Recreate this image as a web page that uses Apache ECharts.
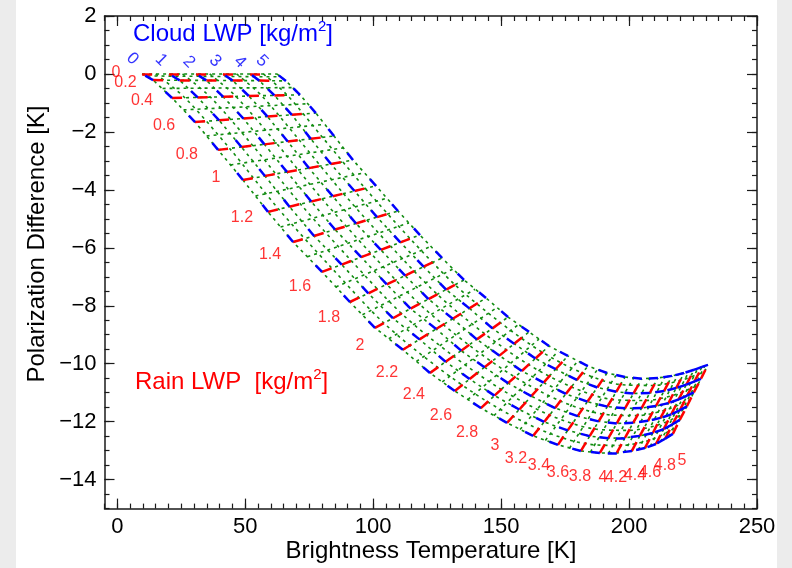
<!DOCTYPE html>
<html><head><meta charset="utf-8">
<script src="https://cdn.jsdelivr.net/npm/echarts@6.0.0/dist/echarts.min.js"></script>
<style>html,body{margin:0;padding:0;background:#ececec;}#chart{width:792px;height:568px;}</style>
</head><body><div id="chart"></div>
<script>
// ---- data ----
const rainLWP = [0,0.2,0.4,0.6,0.8,1,1.2,1.4,1.6,1.8,2,2.2,2.4,2.6,2.8,3,3.2,3.4,3.6,3.8,4,4.2,4.4,4.6,4.8,5];
const cloudLWP = [0,1,2,3,4,5];

const tbCloud0 = [9.7,14.0,21.4,30.4,39.4,49.1,58.9,68.7,80.0,90.9,100.7,111.6,122.2,131.9,142.1,152.3,162.5,172.2,181.2,188.6,195.2,201.1,206.2,210.5,214.1,217.1];
const pdCloud0 = [0,-0.21,-0.83,-1.66,-2.62,-3.66,-4.76,-5.80,-6.83,-7.87,-8.76,-9.52,-10.32,-10.94,-11.53,-12.04,-12.49,-12.80,-13.01,-13.08,-13.08,-13.01,-12.91,-12.77,-12.59,-12.42];
const tbCloud1 = [20.2,24.4,31.4,39.8,48.5,57.7,67.3,76.9,87.7,98.1,107.7,118.1,128.3,137.7,147.4,157.1,166.8,176.0,184.6,191.9,198.4,204.2,209.3,213.5,217.0,219.8];
const pdCloud1 = [0,-0.22,-0.81,-1.60,-2.52,-3.52,-4.58,-5.59,-6.58,-7.57,-8.43,-9.16,-9.93,-10.53,-11.10,-11.58,-12.01,-12.30,-12.50,-12.57,-12.56,-12.49,-12.39,-12.26,-12.09,-11.94];
const tbCloud2 = [30.8,34.8,41.4,49.3,57.5,66.3,75.8,85.1,95.3,105.3,114.6,124.6,134.4,143.5,152.7,161.8,171.1,179.9,188.1,195.2,201.6,207.4,212.3,216.5,219.9,222.6];
const pdCloud2 = [0,-0.22,-0.79,-1.54,-2.43,-3.38,-4.40,-5.37,-6.32,-7.26,-8.10,-8.80,-9.55,-10.12,-10.67,-11.12,-11.53,-11.81,-11.99,-12.06,-12.04,-11.97,-11.87,-11.75,-11.60,-11.47];
const tbCloud3 = [41.3,45.1,51.4,58.7,66.6,74.9,84.2,93.3,103.0,112.5,121.6,131.1,140.5,149.3,158.1,166.6,175.3,183.7,191.5,198.4,204.9,210.5,215.4,219.4,222.7,225.3];
const pdCloud3 = [0,-0.23,-0.76,-1.47,-2.33,-3.25,-4.22,-5.16,-6.07,-6.96,-7.77,-8.45,-9.16,-9.72,-10.25,-10.65,-11.04,-11.31,-11.48,-11.54,-11.53,-11.46,-11.36,-11.23,-11.10,-10.99];
const tbCloud4 = [51.9,55.5,61.4,68.2,75.6,83.5,92.7,101.5,110.6,119.7,128.5,137.6,146.6,155.1,163.4,171.3,179.6,187.6,195.0,201.7,208.1,213.7,218.4,222.4,225.6,228.1];
const pdCloud4 = [0,-0.23,-0.74,-1.41,-2.24,-3.11,-4.04,-4.94,-5.81,-6.65,-7.44,-8.09,-8.78,-9.31,-9.82,-10.19,-10.56,-10.82,-10.97,-11.03,-11.01,-10.94,-10.84,-10.72,-10.61,-10.52];
const tbCloud5 = [62.4,65.9,71.4,77.6,84.7,92.1,101.1,109.7,118.3,126.9,135.5,144.1,152.7,160.9,168.7,176.1,183.9,191.4,198.4,205.0,211.3,216.8,221.5,225.4,228.5,230.8];
const pdCloud5 = [0,-0.24,-0.72,-1.35,-2.14,-2.97,-3.86,-4.73,-5.56,-6.35,-7.11,-7.73,-8.39,-8.90,-9.39,-9.73,-10.08,-10.32,-10.46,-10.52,-10.49,-10.42,-10.32,-10.21,-10.11,-10.04];

// green dotted curves: half-step cloud LWP
const cloudHalf = [0.5,1.5,2.5,3.5,4.5];
const rainGreen = [0,0.4,0.8,1.2,1.6,2,2.4,2.8,3.2,3.6,4,4.4,4.8,5];
const tbHalf05 = [15.0,26.4,43.9,63.1,83.8,104.2,125.3,144.8,164.6,182.9,196.8,207.7,215.5,218.5];
const pdHalf05 = [0,-0.82,-2.57,-4.67,-6.70,-8.60,-10.13,-11.32,-12.25,-12.76,-12.82,-12.65,-12.34,-12.18];
const tbHalf15 = [25.5,36.4,53.0,71.6,91.5,111.1,131.4,150.1,168.9,186.4,200.0,210.8,218.4,221.2];
const pdHalf15 = [0,-0.80,-2.48,-4.49,-6.45,-8.27,-9.74,-10.89,-11.77,-12.25,-12.30,-12.13,-11.85,-11.71];
const tbHalf25 = [36.1,46.4,62.1,80.0,99.2,118.1,137.5,155.4,173.2,189.8,203.3,213.9,221.3,224.0];
const pdHalf25 = [0,-0.78,-2.38,-4.31,-6.20,-7.94,-9.36,-10.46,-11.29,-11.74,-11.79,-11.61,-11.35,-11.23];
const tbHalf35 = [46.6,56.4,71.1,88.4,106.8,125.1,143.6,160.7,177.5,193.2,206.5,216.9,224.2,226.7];
const pdHalf35 = [0,-0.75,-2.28,-4.13,-5.94,-7.61,-8.97,-10.03,-10.80,-11.23,-11.27,-11.10,-10.85,-10.76];
const tbHalf45 = [57.1,66.4,80.2,96.9,114.5,132.0,149.7,166.0,181.8,196.7,209.7,220.0,227.1,229.4];
const pdHalf45 = [0,-0.73,-2.19,-3.95,-5.69,-7.28,-8.58,-9.60,-10.32,-10.72,-10.75,-10.58,-10.36,-10.28];

// green dotted lines: odd-tenth rain LWP, from cloud 0 to cloud 5
const rainMid = [0.1,0.3,0.5,0.7,0.9,1.1,1.3,1.5,1.7,1.9,2.1,2.3,2.5,2.7,2.9,3.1,3.3,3.5,3.7,3.9,4.1,4.3,4.5,4.7,4.9];
const tbMidC0 = [11.8,17.7,25.9,34.9,44.2,54.0,63.8,74.3,85.4,95.8,106.1,116.9,127.0,137.0,147.2,157.4,167.3,176.7,184.9,191.9,198.1,203.6,208.3,212.3,215.6];
const pdMidC0 = [-0.07,-0.50,-1.24,-2.14,-3.14,-4.21,-5.28,-6.31,-7.35,-8.31,-9.14,-9.92,-10.63,-11.24,-11.79,-12.27,-12.65,-12.92,-13.05,-13.10,-13.06,-12.97,-12.85,-12.69,-12.51];
const tbMidC5 = [64.1,68.6,74.5,81.1,88.4,96.6,105.4,114.0,122.6,131.2,139.8,148.4,156.8,164.8,172.4,180.0,187.6,194.9,201.7,208.1,214.0,219.1,223.4,226.9,229.6];
const pdMidC5 = [-0.10,-0.47,-1.03,-1.74,-2.55,-3.41,-4.29,-5.14,-5.95,-6.73,-7.43,-8.06,-8.65,-9.15,-9.57,-9.91,-10.21,-10.40,-10.50,-10.51,-10.46,-10.38,-10.27,-10.16,-10.08];

// label anchor points (data coordinates)
const rainLabelT = [-0.5,3.2,9.7,18.3,27.2,38.6,48.7,59.7,71.4,82.7,94.8,105.4,115.9,126.5,136.7,147.6,155.8,164.8,172.2,180.8,189.8,194.9,202.3,208.2,214.0,220.7];
const rainLabelP = [0.03,-0.29,-0.93,-1.79,-2.80,-3.59,-4.97,-6.25,-7.35,-8.42,-9.39,-10.32,-11.08,-11.80,-12.39,-12.84,-13.28,-13.53,-13.77,-13.91,-13.94,-13.94,-13.87,-13.77,-13.53,-13.35];
const cloudLabelT = [5.9,17.1,28.0,38.2,47.9,56.5];
const cloudLabelP = [0.52,0.48,0.41,0.45,0.41,0.45];

// axis ticks
const xTickValues = [0,50,100,150,200,250];
const yTickValues = [-14,-12,-10,-8,-6,-4,-2,0,2];

// ---- build ----
const FONT = '"Liberation Sans", Arial, Helvetica, sans-serif';
const AX = '#1a1a1a';
const minus = v => (v < 0 ? '\u2212' + Math.abs(v) : String(v));
const xMinor = []; for (let v = -5; v <= 250; v += 5) xMinor.push(v);
const yMinor = []; for (let k = -30; k <= 4; k++) yMinor.push(k / 2);

const TB = [tbCloud0, tbCloud1, tbCloud2, tbCloud3, tbCloud4, tbCloud5];
const PD = [pdCloud0, pdCloud1, pdCloud2, pdCloud3, pdCloud4, pdCloud5];
const TBH = [tbHalf05, tbHalf15, tbHalf25, tbHalf35, tbHalf45];
const PDH = [pdHalf05, pdHalf15, pdHalf25, pdHalf35, pdHalf45];

const blueEdges = [];
cloudLWP.forEach((c, ci) => {
  for (let i = 1; i < rainLWP.length; i++) {
    blueEdges.push({coords: [[TB[ci][i], PD[ci][i]], [TB[ci][i-1], PD[ci][i-1]]]});
  }
});
const redEdges = [];
rainLWP.forEach((r, i) => {
  for (let ci = 0; ci < cloudLWP.length - 1; ci++) {
    redEdges.push({coords: [[TB[ci][i], PD[ci][i]], [TB[ci+1][i], PD[ci+1][i]]]});
  }
});
const greenRain = rainMid.map((r, i) => ({coords: [[tbMidC0[i], pdMidC0[i]], [tbMidC5[i], pdMidC5[i]]]}));
const greenRainFull = rainLWP.map((r, i) => ({coords: cloudLWP.map((c, ci) => [TB[ci][i], PD[ci][i]])}));

const GREEN = '#118c11';
const GSTYLE = {color: GREEN, width: 1.6, type: [3, 4], opacity: 1, curveness: 0};
const series = [];
cloudHalf.forEach((c, k) => {
  series.push({
    type: 'line', name: 'cloud ' + c, xAxisIndex: 0, yAxisIndex: 0,
    data: rainGreen.map((r, i) => [TBH[k][i], PDH[k][i]]),
    showSymbol: false, smooth: 0.3, silent: true, z: 2, lineStyle: GSTYLE
  });
});
cloudLWP.forEach((c, ci) => {
  series.push({
    type: 'line', name: 'cloud green ' + c, xAxisIndex: 0, yAxisIndex: 0,
    data: rainLWP.map((r, i) => [TB[ci][i], PD[ci][i]]),
    showSymbol: false, silent: true, z: 2, lineStyle: GSTYLE
  });
});
series.push({
  type: 'lines', coordinateSystem: 'cartesian2d', xAxisIndex: 0, yAxisIndex: 0, polyline: true,
  data: greenRainFull, silent: true, z: 2, lineStyle: GSTYLE
});
series.push({
  type: 'lines', coordinateSystem: 'cartesian2d', xAxisIndex: 0, yAxisIndex: 0,
  data: greenRain, silent: true, z: 2, lineStyle: GSTYLE
});
series.push({
  type: 'lines', coordinateSystem: 'cartesian2d', xAxisIndex: 0, yAxisIndex: 0,
  data: redEdges, silent: true, z: 3,
  lineStyle: {color: '#ff0000', width: 2.5, type: [10, 60], opacity: 1, curveness: 0}
});
series.push({
  type: 'lines', coordinateSystem: 'cartesian2d', xAxisIndex: 0, yAxisIndex: 0,
  data: blueEdges, silent: true, z: 4,
  lineStyle: {color: '#0000ff', width: 2.5, type: [9, 60], opacity: 1, curveness: 0}
});
series.push({
  type: 'scatter', xAxisIndex: 0, yAxisIndex: 0, symbolSize: 0.01, silent: true, z: 6,
  itemStyle: {color: 'rgba(0,0,0,0)'},
  data: rainLWP.map((r, i) => ({name: String(r), value: [rainLabelT[i], rainLabelP[i]]})),
  label: {show: true, position: 'inside', formatter: '{b}', color: '#ff0000', fontSize: 16, fontFamily: FONT}
});
series.push({
  type: 'scatter', xAxisIndex: 0, yAxisIndex: 0, symbolSize: 0.01, silent: true, z: 6,
  itemStyle: {color: 'rgba(0,0,0,0)'},
  data: cloudLWP.map((c, i) => ({name: String(c), value: [cloudLabelT[i], cloudLabelP[i]]})),
  label: {show: true, position: 'inside', formatter: '{b}', color: '#0000ff', fontSize: 17, fontFamily: FONT, rotate: -45}
});

function xAx(pos, major) {
  return {
    type: 'value', min: -5, max: 250, position: pos, gridIndex: 0,
    axisLine: {show: major, onZero: false, lineStyle: {color: AX, width: 1.5}},
    axisTick: {show: true, inside: true, length: major ? 10 : 5, customValues: major ? xTickValues : xMinor, lineStyle: {color: AX, width: 1.2}},
    axisLabel: {show: major && pos === 'bottom', customValues: xTickValues, formatter: minus, fontSize: 22, fontFamily: FONT, color: '#000', margin: 7},
    splitLine: {show: false}
  };
}
function yAx(pos, major) {
  return {
    type: 'value', min: -15, max: 2, position: pos, gridIndex: 0,
    axisLine: {show: major, onZero: false, lineStyle: {color: AX, width: 1.5}},
    axisTick: {show: true, inside: true, length: major ? 10 : 5, customValues: major ? yTickValues : yMinor, lineStyle: {color: AX, width: 1.2}},
    axisLabel: {show: major && pos === 'left', customValues: yTickValues, formatter: minus, fontSize: 22, fontFamily: FONT, color: '#000', margin: 8},
    splitLine: {show: false}
  };
}

const chart = echarts.init(document.getElementById('chart'));
chart.setOption({
  animation: false,
  backgroundColor: '#ececec',
  grid: {left: 104.5, right: 35, top: 16, bottom: 59.4, outerBoundsMode: 'none', containLabel: false},
  xAxis: [xAx('bottom', true), xAx('bottom', false), xAx('top', true), xAx('top', false)],
  yAxis: [yAx('left', true), yAx('left', false), yAx('right', true), yAx('right', false)],
  graphic: [
    {type: 'rect', z: -100, silent: true, shape: {x: 16, y: 0, width: 761, height: 568}, style: {fill: '#ffffff'}},
    {type: 'text', x: 133, y: 34, silent: true, style: {
      text: '{a|Cloud LWP [kg/m}{s|2}{a|]}', align: 'left', textAlign: 'left', verticalAlign: 'middle', textVerticalAlign: 'middle',
      rich: {a: {fontSize: 24, fontFamily: FONT, fill: '#0000ff', color: '#0000ff', lineHeight: 30},
             s: {fontSize: 15, fontFamily: FONT, fill: '#0000ff', color: '#0000ff', verticalAlign: 'top', lineHeight: 15}}}},
    {type: 'text', x: 135, y: 382, silent: true, style: {
      text: '{a|Rain LWP  [kg/m}{s|2}{a|]}', align: 'left', textAlign: 'left', verticalAlign: 'middle', textVerticalAlign: 'middle',
      rich: {a: {fontSize: 24, fontFamily: FONT, fill: '#ff0000', color: '#ff0000', lineHeight: 30},
             s: {fontSize: 15, fontFamily: FONT, fill: '#ff0000', color: '#ff0000', verticalAlign: 'top', lineHeight: 15}}}},
    {type: 'text', x: 431, y: 551.5, silent: true, style: {
      text: 'Brightness Temperature [K]', font: '24px ' + FONT, fill: '#000',
      align: 'center', textAlign: 'center', verticalAlign: 'middle', textVerticalAlign: 'middle'}},
    {type: 'text', x: 37.5, y: 244, rotation: Math.PI / 2, silent: true, style: {
      text: 'Polarization Difference [K]', font: '24px ' + FONT, fill: '#000',
      align: 'center', textAlign: 'center', verticalAlign: 'middle', textVerticalAlign: 'middle'}}
  ],
  series: series
});
</script></body></html>
